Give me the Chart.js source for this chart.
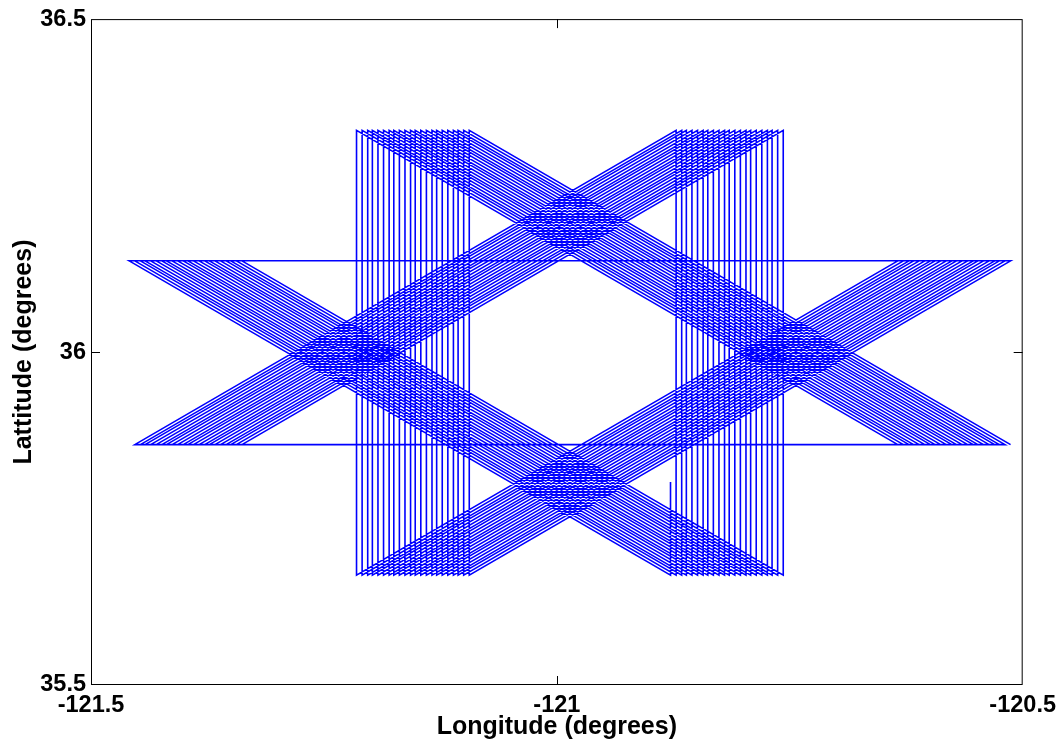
<!DOCTYPE html>
<html>
<head>
<meta charset="utf-8">
<title>Survey track</title>
<script src="https://cdn.jsdelivr.net/npm/chart.js@4/dist/chart.umd.min.js"></script>
<style>
  html, body { margin: 0; padding: 0; background: #fff; }
  canvas { display: block; }
</style>
</head>
<body>
<canvas id="trackChart" width="1062" height="745"></canvas>
<script>
// longitudes of the north-south legs, west block and east block (one per lap)
const westLegs = [
  -121.215, -121.209, -121.203, -121.198, -121.192, -121.186, -121.180, -121.175,
  -121.169, -121.163, -121.157, -121.152, -121.146, -121.140, -121.134, -121.129,
  -121.123, -121.117, -121.111, -121.106, -121.100, -121.094
];
const eastLegs = [
  -120.878, -120.872, -120.866, -120.861, -120.855, -120.849, -120.843, -120.838,
  -120.832, -120.826, -120.820, -120.815, -120.809, -120.803, -120.797, -120.792,
  -120.786, -120.780, -120.774, -120.769, -120.763, -120.757
];

// latitudes of the turn points
const latNorth = 36.333;      // top of the N-S legs
const latSouth = 35.665;      // bottom of the N-S legs
const latUpper = 36.137;      // upper E-W leg
const latLower = 35.861;      // lower E-W leg
const latStart = 35.805;      // where the first (short) leg begins
const diagSpan = 0.581;       // longitude covered by one diagonal leg

const xTicks = [-121.5, -121, -120.5];
const yTicks = [35.5, 36, 36.5];

// walk the laps in flight order
const track = [];
track.push({ x: eastLegs[0], y: latStart });
track.push({ x: eastLegs[0], y: latSouth });
for (let k = 0; k < westLegs.length; k++) {
  if (k > 0) {
    track.push({ x: eastLegs[k] - diagSpan, y: latLower });
    track.push({ x: eastLegs[k], y: latNorth });
    track.push({ x: eastLegs[k], y: latSouth });
  }
  track.push({ x: eastLegs[k] - diagSpan, y: latUpper });
  track.push({ x: westLegs[k] + diagSpan, y: latUpper });
  track.push({ x: westLegs[k], y: latSouth });
  track.push({ x: westLegs[k], y: latNorth });
  track.push({ x: westLegs[k] + diagSpan, y: latLower });
}

const FONT = 'Liberation Sans, Arial, Helvetica, sans-serif';
const tickFont = { family: FONT, size: 23.5, weight: 'bold' };
const titleFont = { family: FONT, size: 25, weight: 'bold' };

// box around the plot plus inward tick marks on all four sides
const boxAndTicks = {
  id: 'boxAndTicks',
  afterDraw(chart) {
    const { ctx, chartArea: a, scales } = chart;
    const len = 9;
    ctx.save();
    ctx.strokeStyle = '#000';
    ctx.lineWidth = 1;
    ctx.strokeRect(a.left + 0.5, a.top + 0.5, a.right - a.left - 1, a.bottom - a.top - 1);
    ctx.beginPath();
    // end ticks sit on the box itself, so only the inner ones are drawn
    xTicks.slice(1, -1).forEach(v => {
      const px = Math.round(scales.x.getPixelForValue(v)) + 0.5;
      ctx.moveTo(px, a.bottom); ctx.lineTo(px, a.bottom - len);
      ctx.moveTo(px, a.top); ctx.lineTo(px, a.top + len);
    });
    yTicks.slice(1, -1).forEach(v => {
      const py = Math.round(scales.y.getPixelForValue(v)) + 0.5;
      ctx.moveTo(a.left, py); ctx.lineTo(a.left + len, py);
      ctx.moveTo(a.right, py); ctx.lineTo(a.right - len, py);
    });
    ctx.stroke();
    ctx.restore();
  }
};

new Chart(document.getElementById('trackChart'), {
  type: 'scatter',
  data: {
    datasets: [{
      data: track,
      showLine: true,
      borderColor: '#0000ff',
      borderWidth: 1.6,
      pointRadius: 0,
      pointHoverRadius: 0,
      tension: 0,
      fill: false
    }]
  },
  options: {
    responsive: false,
    animation: false,
    layout: { padding: { top: 19, right: 37, left: 0, bottom: 0 } },
    plugins: {
      legend: { display: false },
      tooltip: { enabled: false }
    },
    scales: {
      x: {
        type: 'linear',
        min: -121.5,
        max: -120.5,
        afterBuildTicks: s => { s.ticks = xTicks.map(v => ({ value: v })); },
        afterFit: s => { s.height = 60; },
        grid: { display: false, drawTicks: false },
        border: { display: false },
        ticks: {
          color: '#000',
          font: tickFont,
          padding: 6,
          maxRotation: 0,
          autoSkip: false,
          callback: v => String(v)
        },
        title: {
          display: true,
          text: 'Longitude (degrees)',
          color: '#000',
          font: titleFont,
          padding: { top: 0, bottom: 3 }
        }
      },
      y: {
        type: 'linear',
        min: 35.5,
        max: 36.5,
        afterBuildTicks: s => { s.ticks = yTicks.map(v => ({ value: v })); },
        afterFit: s => { s.width = 91; },
        grid: { display: false, drawTicks: false },
        border: { display: false },
        ticks: {
          color: '#000',
          font: tickFont,
          padding: 5,
          autoSkip: false,
          callback: v => String(v)
        },
        title: {
          display: true,
          text: 'Lattitude (degrees)',
          color: '#000',
          font: titleFont,
          padding: { top: 9, bottom: 0 }
        }
      }
    }
  },
  plugins: [boxAndTicks]
});
</script>
</body>
</html>
